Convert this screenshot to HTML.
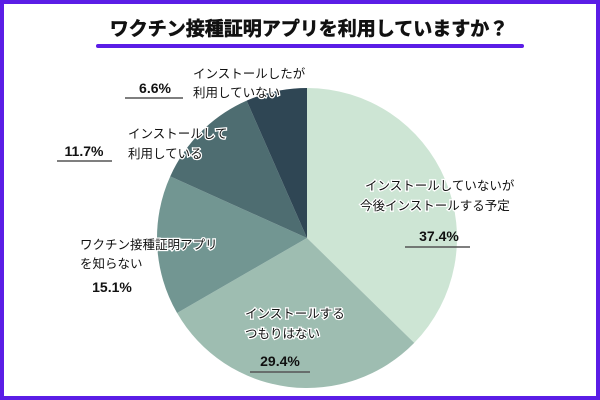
<!DOCTYPE html>
<html><head><meta charset="utf-8"><style>
body{margin:0;width:600px;height:400px;overflow:hidden;background:#fff;font-family:"Liberation Sans","Noto Sans CJK JP",sans-serif}
#frame{position:absolute;left:0;top:0;width:592px;height:392px;border:4px solid #5b1de6;}
</style></head><body>
<div id="frame"></div>
<svg id="chart" width="600" height="400" style="position:absolute;left:0;top:0">
<text x="309" y="35" text-anchor="middle" font-size="19" font-weight="bold" fill="#111" stroke="#111" stroke-width="0.6" font-family="Liberation Sans, Noto Sans CJK JP, sans-serif">ワクチン接種証明アプリを利用していますか？</text>
<rect x="96" y="44" width="428" height="4" rx="2" fill="#5b1de6"/>
<g id="slices"></g>
<g id="labels" font-family="Liberation Sans, Noto Sans CJK JP, sans-serif" font-size="12.5" fill="#111"></g>
</svg>
<script>
const categories=["インストールしていないが今後インストールする予定","インストールするつもりはない","ワクチン接種証明アプリを知らない","インストールして利用している","インストールしたが利用していない"];
const values=[37.4,29.4,15.1,11.7,6.6];
const colors=["#cde5d4","#9ebdb1","#729692","#4e6d71","#2f4654"];
const cx=307,cy=238,r=150;
const ns="http://www.w3.org/2000/svg";
const total=values.reduce((a,b)=>a+b,0);
let a0=-Math.PI/2;
const g=document.getElementById('slices');
values.forEach((v,i)=>{
 const a1=a0+v/total*2*Math.PI;
 const x0=cx+r*Math.cos(a0),y0=cy+r*Math.sin(a0),x1=cx+r*Math.cos(a1),y1=cy+r*Math.sin(a1);
 const p=document.createElementNS(ns,'path');
 p.setAttribute('d',`M${cx},${cy}L${x0},${y0}A${r},${r} 0 ${a1-a0>Math.PI?1:0} 1 ${x1},${y1}Z`);
 p.setAttribute('fill',colors[i]);
 
 
 g.appendChild(p);
 a0=a1;
});
const lines=[
 [["インストールしていないが",365,190],["今後インストールする予定",360,210]],
 [["インストールする",245,318],["つもりはない",245,338]],
 [["ワクチン接種証明アプリ",80,249],["を知らない",80,268]],
 [["インストールして",128,138],["利用している",128,158]],
 [["インストールしたが",193,78],["利用していない",193,97]]
];
const pcts=[[439,241,405,470,247],[280,366,250,310,372],[112,292,0,0,0],[84,156,57,112,161],[155,93,125,183,98]];
const L=document.getElementById('labels');
lines.forEach((ls,i)=>{
 ls.forEach(([t,x,y])=>{
  const e=document.createElementNS(ns,'text');
  e.setAttribute('x',x);e.setAttribute('y',y);
  e.setAttribute('stroke','#fff');e.setAttribute('stroke-width','2.5');e.setAttribute('paint-order','stroke');
  e.textContent=t;
  
  
  L.appendChild(e);
 });
 const [x,y,u0,u1,uy]=pcts[i];
 const e=document.createElementNS(ns,'text');
 e.setAttribute('x',x);e.setAttribute('y',y);e.setAttribute('text-anchor','middle');
 e.setAttribute('font-weight','bold');e.setAttribute('font-size','14');
 e.textContent=values[i].toFixed(1)+'%';
 
 
 L.appendChild(e);
 if(u1){
  const l=document.createElementNS(ns,'line');
  l.setAttribute('x1',u0);l.setAttribute('x2',u1);l.setAttribute('y1',uy);l.setAttribute('y2',uy);
  l.setAttribute('stroke','#555');l.setAttribute('stroke-width','1.5');
  
  
  L.appendChild(l);
 }
});
</script>
</body></html>
